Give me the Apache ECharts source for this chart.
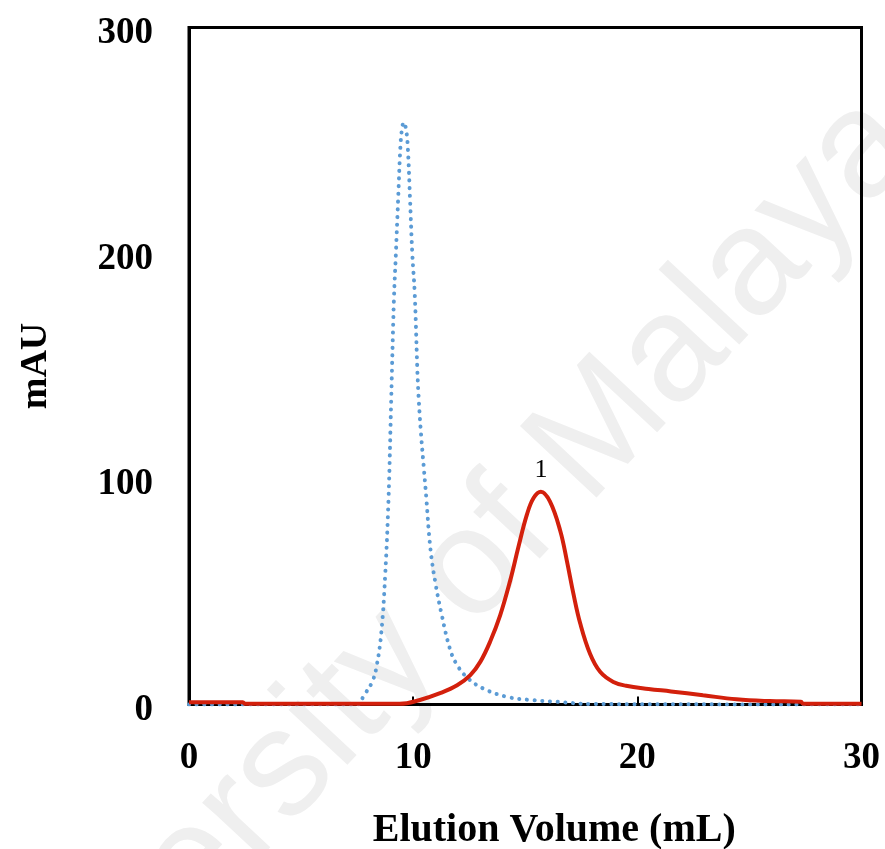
<!DOCTYPE html>
<html>
<head>
  <meta charset="utf-8">
  <script src="https://cdn.jsdelivr.net/npm/echarts@6/dist/echarts.min.js"></script>
</head>
<body style="margin: 0; background: #fff">
  <div id="container" style="width: 885px; height: 849px"></div>
  <script>
    // elution profiles (volume in mL, absorbance in mAU)
    var blueVolume = [0, 7.5, 7.8, 8.17, 8.37, 8.58, 8.75, 8.9, 9.02, 9.14, 9.23, 9.33, 9.43, 9.5, 9.58,
      9.68, 9.76, 9.86, 9.96, 10.07, 10.25, 10.59, 10.77, 10.99, 11.29, 11.63, 11.9, 12.4, 13.14, 14.18,
      15.36, 16.4, 18, 30];
    var blueMAU = [0, 0, 4, 10, 17, 32, 57, 91, 135, 179, 200, 224, 247, 255, 258,
      255, 247, 224, 200, 182, 135, 91, 69, 54, 39, 25, 18.5, 12, 7, 3.4,
      1.9, 1.2, 0.2, 0];

    var redVolume = [0, 2.4, 2.5, 9.4, 10.3, 11.2, 11.96, 12.55, 13.0, 13.44, 13.88, 14.33, 14.7, 15.07, 15.37, 15.7,
      16.1, 16.56, 16.85, 17.15, 17.45, 17.89, 18.34, 18.93, 19.5, 20.5, 21.5, 22.93, 24.42, 25.9, 27.3, 27.4, 30];
    var redMAU = [1, 1, 0.3, 0.3, 2.0, 5, 8.5, 13, 19, 28, 39.5, 55, 70, 84, 91.5, 94.3,
      90, 77, 64, 49, 36, 22.5, 14.5, 10, 8.3, 6.9, 5.8, 4.1, 2.3, 1.5, 1.2, 0.3, 0.3];

    var peakLabel = '1';
    var peakAt = [15.7, 94.3];

    var xTicks = [0, 10, 20, 30];
    var yTicks = [0, 100, 200, 300];

    function pairs(xs, ys) {
      return xs.map(function (x, i) { return [x, ys[i]]; });
    }

    var serif = 'Liberation Serif';
    var chart = echarts.init(document.getElementById('container'), null, { renderer: 'canvas' });

    chart.setOption({
      animation: false,
      backgroundColor: '#fff',
      graphic: [{
        type: 'text',
        z: -10,
        x: 425,
        y: 620,
        rotation: 47 * Math.PI / 180,
        style: {
          text: 'University of Malaya',
          font: '152px "Liberation Sans"',
          fill: '#efefef',
          align: 'center',
          verticalAlign: 'middle'
        }
      }],
      grid: {
        left: 189, right: 23.5, top: 27.5, bottom: 144.5,
        outerBoundsMode: 'none',
        show: true, borderColor: '#000', borderWidth: 3, backgroundColor: 'transparent'
      },
      xAxis: {
        type: 'value',
        min: xTicks[0], max: xTicks[xTicks.length - 1], interval: 10,
        name: 'Elution Volume (mL)',
        nameLocation: 'middle',
        nameGap: 106,
        nameTextStyle: { fontFamily: serif, fontWeight: 'bold', fontSize: 40, color: '#000', padding: [0, 0, 0, 58] },
        axisLine: { lineStyle: { color: '#000', width: 3 } },
        axisTick: { inside: true, length: 8, lineStyle: { color: '#000', width: 2 } },
        axisLabel: { margin: 35, fontFamily: serif, fontWeight: 'bold', fontSize: 37, color: '#000' },
        splitLine: { show: false }
      },
      yAxis: {
        type: 'value',
        min: yTicks[0], max: yTicks[yTicks.length - 1], interval: 100,
        name: 'mAU',
        nameLocation: 'middle',
        nameGap: 134,
        nameTextStyle: { fontFamily: serif, fontWeight: 'bold', fontSize: 38, color: '#000' },
        axisLine: { show: true, lineStyle: { color: '#000', width: 3 } },
        axisTick: { show: false },
        axisLabel: {
          margin: 36,
          formatter: '{v|{value}}',
          rich: {
            v: { padding: [12, 0, 0, 0], fontFamily: serif, fontWeight: 'bold', fontSize: 37, color: '#000' }
          }
        },
        splitLine: { show: false }
      },
      series: [{
        type: 'line',
        data: pairs(blueVolume, blueMAU),
        showSymbol: false,
        smooth: 0.4,
        z: 3,
        lineStyle: { color: '#5b9bd5', width: 4, type: [0.1, 7.6], cap: 'round' }
      }, {
        type: 'line',
        data: pairs(redVolume, redMAU),
        showSymbol: false,
        smooth: 0.4,
        z: 4,
        lineStyle: { color: '#d3200c', width: 4 },
        markPoint: {
          symbol: 'circle',
          symbolSize: 0,
          label: { show: true, formatter: peakLabel, position: 'top', distance: 9,
            fontFamily: serif, fontSize: 26, color: '#000' },
          data: [{ coord: peakAt }]
        }
      }]
    });
  </script>
</body>
</html>
